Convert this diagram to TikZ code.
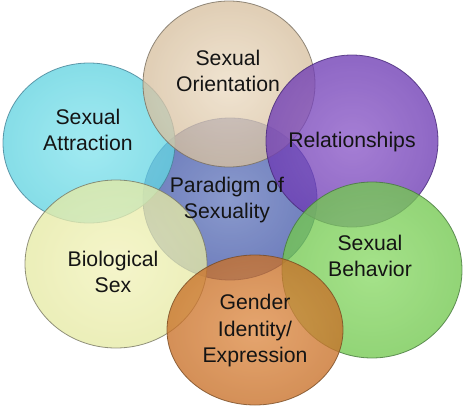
\documentclass[tikz,border=0pt]{standalone}
\usepackage{fontspec}
\setmainfont{Liberation Sans}
\definecolor{cyanIn}{RGB}{135,228,238}
\definecolor{cyanOut}{RGB}{100,212,225}
\definecolor{cyanLine}{RGB}{70,130,150}
\definecolor{tanIn}{RGB}{236,220,196}
\definecolor{tanOut}{RGB}{215,192,160}
\definecolor{tanLine}{RGB}{120,110,95}
\definecolor{purIn}{RGB}{140,90,200}
\definecolor{purOut}{RGB}{110,60,180}
\definecolor{purLine}{RGB}{70,40,120}
\definecolor{bluIn}{RGB}{105,125,190}
\definecolor{bluOut}{RGB}{70,90,170}
\definecolor{bluLine}{RGB}{30,50,140}
\definecolor{yelIn}{RGB}{242,242,188}
\definecolor{yelOut}{RGB}{230,234,165}
\definecolor{yelLine}{RGB}{120,120,100}
\definecolor{grnIn}{RGB}{140,218,105}
\definecolor{grnOut}{RGB}{115,200,80}
\definecolor{grnLine}{RGB}{70,120,60}
\definecolor{orgIn}{RGB}{222,140,70}
\definecolor{orgOut}{RGB}{200,112,40}
\definecolor{orgLine}{RGB}{120,75,35}
\begin{document}
\begin{tikzpicture}[x=1pt,y=-1pt,
  blob/.style={line width=0.8pt, fill opacity=0.78, draw opacity=0.8},
  lbl/.style={font=\fontsize{21.2}{26.5}\selectfont, align=center, text=black!92, inner sep=0pt}]
\useasboundingbox (0,0) rectangle (474,407);
% circles
\shade[blob, inner color=bluIn, outer color=bluOut, draw=bluLine] (230,199) ellipse [x radius=87pt, y radius=81pt];
\shade[blob, inner color=cyanIn, outer color=cyanOut, draw=cyanLine] (89,143) ellipse [x radius=86pt, y radius=80pt];
\shade[blob, inner color=tanIn, outer color=tanOut, draw=tanLine] (229,84) ellipse [x radius=86pt, y radius=83pt];
\shade[blob, inner color=purIn, outer color=purOut, draw=purLine] (352,141) ellipse [x radius=86pt, y radius=86pt];
\shade[blob, inner color=yelIn, outer color=yelOut, draw=yelLine] (116,264) ellipse [x radius=91pt, y radius=84pt];
\shade[blob, inner color=grnIn, outer color=grnOut, draw=grnLine] (372,270) ellipse [x radius=90pt, y radius=88pt];
\shade[blob, inner color=orgIn, outer color=orgOut, draw=orgLine] (255,330) ellipse [x radius=88pt, y radius=75pt];
% labels
\node[lbl] (orient) at (228,71) {Sexual\\Orientation};
\node[lbl] (attract) at (88,130) {Sexual\\Attraction};
\node[lbl] (relat) at (352,142) {Relationships};
\node[lbl] (paradigm) at (227,200) {Paradigm of\\Sexuality};
\node[lbl] (bio) at (113,272) {Biological\\Sex};
\node[lbl] (behav) at (370,256) {Sexual\\Behavior};
\node[lbl] (gender) at (255,331) {Gender\\Identity/\\Expression};
\end{tikzpicture}
\end{document}
